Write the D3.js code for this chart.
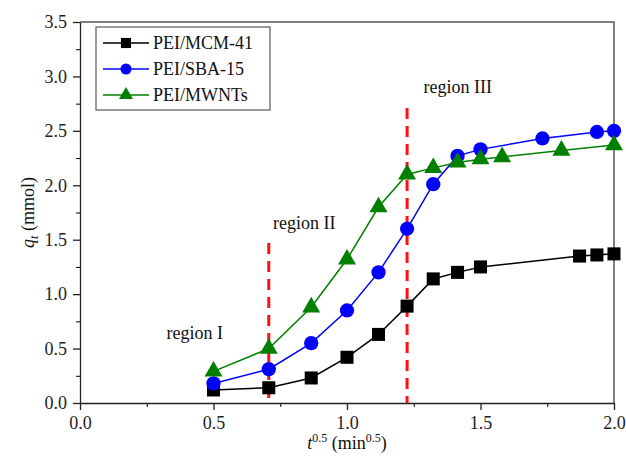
<!DOCTYPE html>
<html>
<head>
<meta charset="utf-8">
<script src="https://cdn.jsdelivr.net/npm/d3@7"></script>
<style>
  body { margin: 0; background: #fff; }
  text { font-family: "Liberation Serif", "Times New Roman", serif; fill: #111; }
</style>
</head>
<body>
<div id="chart"></div>
<script>
//Data
let seriesNames = ["PEI/MCM-41", "PEI/SBA-15", "PEI/MWNTs"];
let mcmX = [0.5, 0.707, 0.866, 1.0, 1.118, 1.225, 1.323, 1.414, 1.5, 1.871, 1.936, 2.0];
let mcmY = [0.12, 0.14, 0.23, 0.42, 0.63, 0.89, 1.14, 1.20, 1.25, 1.35, 1.36, 1.37];
let sbaX = [0.5, 0.707, 0.866, 1.0, 1.118, 1.225, 1.323, 1.414, 1.5, 1.732, 1.936, 2.0];
let sbaY = [0.18, 0.31, 0.55, 0.85, 1.20, 1.60, 2.01, 2.27, 2.33, 2.43, 2.49, 2.50];
let mwX = [0.5, 0.707, 0.866, 1.0, 1.118, 1.225, 1.323, 1.414, 1.5, 1.581, 1.803, 2.0];
let mwY = [0.29, 0.50, 0.88, 1.32, 1.80, 2.10, 2.16, 2.21, 2.24, 2.26, 2.32, 2.37];
let xTicks = [0.0, 0.5, 1.0, 1.5, 2.0];
let yTicks = [0.0, 0.5, 1.0, 1.5, 2.0, 2.5, 3.0, 3.5];
let regionLines = [{ x: 0.707, top: 1.47 }, { x: 1.225, top: 2.71 }];
let regionLabels = [
  { text: "region I", x: 0.43, y: 0.59 },
  { text: "region II", x: 0.84, y: 1.60 },
  { text: "region III", x: 1.415, y: 2.85 }
];

//Set the Size of the SVG and the Margins
let svgWidth = 626;
let svgHeight = 461;
let margin = { top: 22, right: 12, bottom: 58, left: 80 };
let width = svgWidth - margin.left - margin.right;
let height = svgHeight - margin.top - margin.bottom;

let svg = d3.select("#chart")
  .append("svg")
  .attr("width", svgWidth)
  .attr("height", svgHeight);

let chartGroup = svg.append("g")
  .attr("transform", `translate(${margin.left}, ${margin.top})`);

//Create the Scales
let xScale = d3.scaleLinear().domain([0, 2]).range([0, width]);
let yScale = d3.scaleLinear().domain([0, 3.5]).range([height, 0]);

//Frame on Top and Right
chartGroup.append("path")
  .attr("d", `M0,0H${width}V${height}`)
  .attr("fill", "none")
  .attr("stroke", "#555")
  .attr("stroke-width", 1.5);

//Minor Ticks First, Then the Major Axes
let xMinor = d3.range(0.25, 2, 0.5);
let yMinor = d3.range(0.25, 3.5, 0.5);

chartGroup.append("g")
  .attr("transform", `translate(0, ${height})`)
  .call(d3.axisBottom(xScale).tickValues(xMinor).tickSize(4).tickFormat(""))
  .call(g => g.select(".domain").remove());
chartGroup.append("g")
  .call(d3.axisLeft(yScale).tickValues(yMinor).tickSize(4).tickFormat(""))
  .call(g => g.select(".domain").remove());

let bottomAxis = d3.axisBottom(xScale)
  .tickValues(xTicks)
  .tickSize(7)
  .tickSizeOuter(0)
  .tickPadding(6)
  .tickFormat(d3.format(".1f"));
let leftAxis = d3.axisLeft(yScale)
  .tickValues(yTicks)
  .tickSize(7)
  .tickSizeOuter(0)
  .tickPadding(6)
  .tickFormat(d3.format(".1f"));

chartGroup.append("g")
  .attr("class", "axis")
  .attr("transform", `translate(0, ${height})`)
  .call(bottomAxis)
  .attr("font-family", "Liberation Serif")
  .attr("font-size", 18);
chartGroup.append("g")
  .attr("class", "axis")
  .call(leftAxis)
  .attr("font-family", "Liberation Serif")
  .attr("font-size", 18);

chartGroup.selectAll(".axis text")
  .style("font-family", "'Liberation Serif', serif")
  .style("font-size", "18px")
  .style("fill", "#222");
chartGroup.selectAll(".axis path, .axis line")
  .attr("stroke", "#222")
  .attr("stroke-width", 1.3);

//Red Dashed Region Lines
chartGroup.selectAll(".region-line")
  .data(regionLines)
  .enter()
  .append("line")
  .attr("class", "region-line")
  .attr("x1", d => xScale(d.x))
  .attr("x2", d => xScale(d.x))
  .attr("y1", d => yScale(d.top))
  .attr("y2", yScale(0))
  .attr("stroke", "#ff1010")
  .attr("stroke-width", 3)
  .attr("stroke-dasharray", "11,7");

//Region Labels
chartGroup.selectAll(".region-label")
  .data(regionLabels)
  .enter()
  .append("text")
  .attr("class", "region-label")
  .attr("x", d => xScale(d.x))
  .attr("y", d => yScale(d.y))
  .attr("text-anchor", "middle")
  .style("font-size", "18px")
  .text(d => d.text);

//Build the Series From the Arrays
let series = [
  { name: seriesNames[0], color: "#000000", shape: d3.symbolSquare, size: 170, xs: mcmX, ys: mcmY },
  { name: seriesNames[1], color: "#0000ff", shape: d3.symbolCircle, size: 160, xs: sbaX, ys: sbaY },
  { name: seriesNames[2], color: "#008000", shape: d3.symbolTriangle, size: 140, xs: mwX, ys: mwY }
];
series.forEach(s => { s.points = s.xs.map((x, i) => ({ x: x, y: s.ys[i] })); });

let line = d3.line()
  .x(d => xScale(d.x))
  .y(d => yScale(d.y));

series.forEach(s => {
  chartGroup.append("path")
    .datum(s.points)
    .attr("d", line)
    .attr("fill", "none")
    .attr("stroke", s.color)
    .attr("stroke-width", 1.5);

  chartGroup.selectAll(null)
    .data(s.points)
    .enter()
    .append("path")
    .attr("transform", d => `translate(${xScale(d.x)}, ${yScale(d.y)})`)
    .attr("d", d3.symbol().type(s.shape).size(s.size))
    .attr("fill", s.color);
});

//Legend
let legend = chartGroup.append("g")
  .attr("transform", "translate(16, 5)");

legend.append("rect")
  .attr("width", 174)
  .attr("height", 83)
  .attr("fill", "#fff")
  .attr("stroke", "#666")
  .attr("stroke-width", 1.3);

series.forEach((s, i) => {
  let row = legend.append("g")
    .attr("transform", `translate(0, ${16 + i * 26})`);
  row.append("line")
    .attr("x1", 7)
    .attr("x2", 53)
    .attr("stroke", s.color)
    .attr("stroke-width", 1.5);
  row.append("path")
    .attr("transform", "translate(30, 0)")
    .attr("d", d3.symbol().type(s.shape).size(s.size * 0.6))
    .attr("fill", s.color);
  row.append("text")
    .attr("x", 57)
    .attr("y", 6)
    .style("font-size", "18px")
    .text(s.name);
});

//Axis Titles
let xTitle = svg.append("text")
  .attr("x", margin.left + width / 2)
  .attr("y", 449)
  .attr("text-anchor", "middle")
  .style("font-size", "18px");
xTitle.append("tspan").style("font-style", "italic").text("t");
xTitle.append("tspan").attr("dy", -7).style("font-size", "12px").text("0.5");
xTitle.append("tspan").attr("dy", 7).text(" (min");
xTitle.append("tspan").attr("dy", -7).style("font-size", "12px").text("0.5");
xTitle.append("tspan").attr("dy", 7).text(")");

let yTitle = svg.append("text")
  .attr("transform", `translate(34, ${margin.top + height / 2}) rotate(-90)`)
  .attr("text-anchor", "middle")
  .style("font-size", "18px");
yTitle.append("tspan").style("font-style", "italic").text("q");
yTitle.append("tspan").attr("dy", 4).style("font-size", "12px").style("font-style", "italic").text("t");
yTitle.append("tspan").attr("dy", -4).text(" (mmol)");
</script>
</body>
</html>
